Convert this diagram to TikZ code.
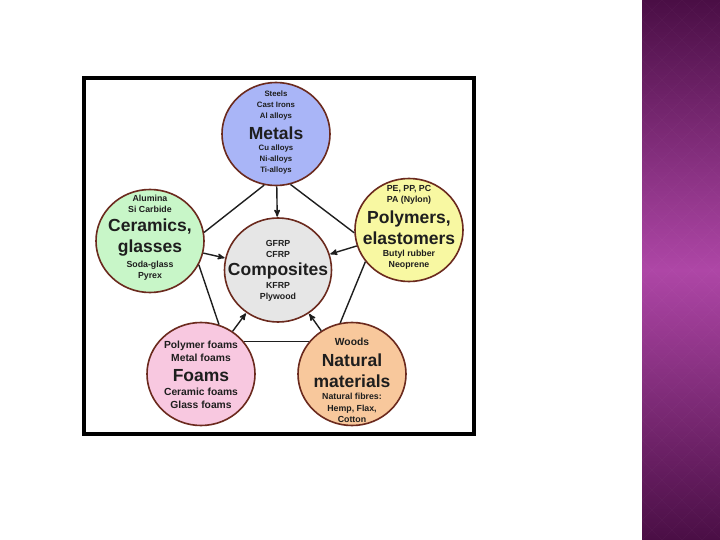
\documentclass[tikz,border=0pt]{standalone}
\usepackage{fontspec}
\setmainfont{Liberation Sans}
\usetikzlibrary{positioning}
\usetikzlibrary{arrows}
\usetikzlibrary{shapes.geometric}

\definecolor{rim}{HTML}{6B2A1E}
\definecolor{ink}{HTML}{1E1E1E}
\definecolor{metalfill}{HTML}{A9B5F7}
\definecolor{ceramfill}{HTML}{C8F6C8}
\definecolor{polyfill}{HTML}{F8F8A2}
\definecolor{compfill}{HTML}{E6E6E6}
\definecolor{foamfill}{HTML}{F8C8E0}
\definecolor{woodfill}{HTML}{F8C89C}
\definecolor{stripdark}{HTML}{4A0E45}
\definecolor{striplight}{HTML}{AE46A6}

\begin{document}
\begin{tikzpicture}[x=1pt,y=-1pt,>=stealth',
  mat/.style={ellipse,draw=rim,line width=1.6pt,minimum width=108pt,minimum height=103pt,inner sep=0pt},
  tiny/.style={align=center,inner sep=0pt,text=ink,font=\bfseries\fontsize{7.8}{11}\selectfont},
  small/.style={align=center,inner sep=0pt,text=ink,font=\bfseries\fontsize{8.8}{11.2}\selectfont},
  mid/.style={align=center,inner sep=0pt,text=ink,font=\bfseries\fontsize{10.3}{13}\selectfont},
  big/.style={align=center,inner sep=0pt,text=ink,font=\bfseries\fontsize{17.5}{21}\selectfont},
  link/.style={draw=ink,line width=1.4pt},
  feed/.style={link,->,shorten >=0.5pt}]

  \useasboundingbox (0,0) rectangle (720,540);
  \fill[white] (0,0) rectangle (720,540);

  % side strip
  \shade[top color=stripdark,bottom color=stripdark,middle color=striplight]
    (642,0) rectangle (720,540);
  \begin{scope}
    \clip (642,0) rectangle (720,540);
    \foreach \k in {-30,...,40}
      \draw[white,opacity=0.025,line width=0.8pt] (642+20*\k,0) -- ++(540,540)
        (642+20*\k,0) -- ++(-540,540);
  \end{scope}

  \draw[black,line width=4pt] (84,78) rectangle (474,434);

  \node[mat,fill=metalfill] (metals) at (276,134) {};
  \node[mat,fill=ceramfill] (ceram) at (150,241) {};
  \node[mat,fill=polyfill] (poly) at (409,230) {};
  \node[mat,fill=compfill,minimum width=107pt,minimum height=104pt] (comp) at (278,270) {};
  \node[mat,fill=foamfill] (foams) at (201,374) {};
  \node[mat,fill=woodfill] (woods) at (352,374) {};

  \node[tiny] (metalsup) at (276,105) {Steels\\Cast Irons\\Al alloys};
  \node[big] (metalstitle) at (276,133) {Metals};
  \node[tiny] (metalsdown) at (276,159.5) {Cu alloys\\Ni-alloys\\Ti-alloys};

  \node[small] (ceramup) at (150,204) {Alumina\\Si Carbide};
  \node[big] (ceramtitle) at (150,237.5) {Ceramics,\\glasses};
  \node[small] (ceramdown) at (150,270.5) {Soda-glass\\Pyrex};

  \node[small] (polyup) at (409,195) {PE, PP, PC\\PA (Nylon)};
  \node[big] (polytitle) at (409,227.5) {Polymers,\\elastomers};
  \node[small] (polydown) at (409,260) {Butyl rubber\\Neoprene};

  \node[small] (compup) at (278,249) {GFRP\\CFRP};
  \node[big] (comptitle) at (278,271) {Composites};
  \node[small] (compdown) at (278,291.5) {KFRP\\Plywood};

  \node[mid] (foamsup) at (201,351) {Polymer foams\\Metal foams};
  \node[big] (foamstitle) at (201,375.5) {Foams};
  \node[mid] (foamsdown) at (201,398.5) {Ceramic foams\\Glass foams};

  \node[mid] (woodsup) at (352,342) {Woods};
  \node[big] (woodstitle) at (352,371) {Natural\\materials};
  \node[small] (woodsdown) at (352,408) {Natural fibres:\\Hemp, Flax,\\Cotton};

  \path[link]
    (metals.257) edge (ceram.9)
    (metals.286) edge (poly.183)
    (ceram.334) edge (foams.70)
    (poly.216) edge (woods.103)
    (foams.37) edge (woods.143);

  \path[feed]
    (metals) edge (comp)
    (ceram) edge (comp)
    (poly) edge (comp)
    (foams) edge (comp)
    (woods) edge (comp);

\end{tikzpicture}
\end{document}
